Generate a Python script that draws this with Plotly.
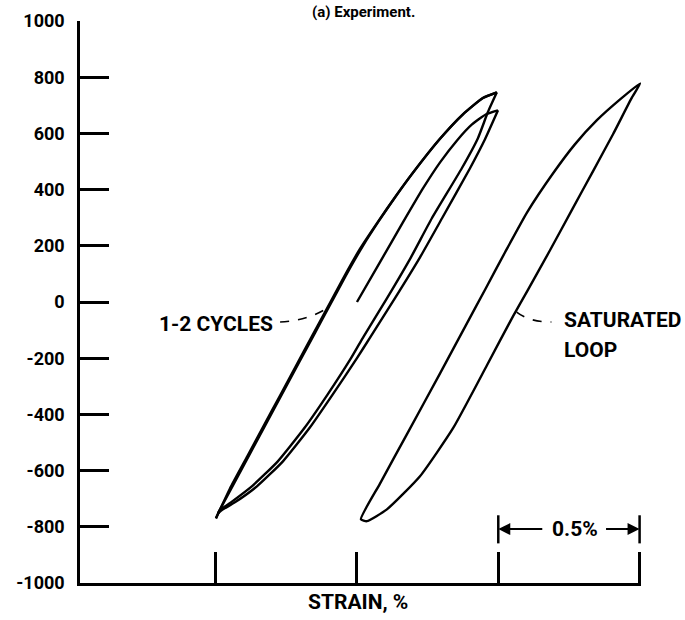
import plotly.graph_objects as go

# ---- data (strain in %, stress in MPa) ----
# 1-2 cycles: first loading from zero, then two reversals
first_load_strain = [0.0, 0.081, 0.163, 0.234, 0.294, 0.354, 0.407, 0.457, 0.499]
first_load_stress = [0, 141, 284, 405, 497, 575, 632, 668, 682]

unload1_strain = [0.499, 0.453, 0.400, 0.301, 0.223, 0.134, 0.049, 0.000, -0.085, -0.166, -0.262, -0.354, -0.432, -0.474, -0.492]
unload1_stress = [682, 579, 476, 298, 159, 13, -122, -200, -328, -446, -567, -656, -713, -738, -752]

reload1_strain = [-0.492, -0.434, -0.377, -0.320, -0.262, -0.205, -0.148, -0.102, -0.040, 0.020, 0.080, 0.140, 0.198, 0.294, 0.375, 0.446, 0.495]
reload1_stress = [-752, -644, -537, -430, -322, -215, -109, -23, 93, 198, 292, 380, 460, 581, 668, 726, 746]

unload2_strain = [0.495, 0.463, 0.428, 0.371, 0.265, 0.191, 0.106, 0.024, -0.021, -0.103, -0.184, -0.280, -0.372, -0.446, -0.485, -0.499]
unload2_stress = [746, 675, 583, 476, 298, 159, 13, -122, -200, -328, -446, -567, -656, -713, -741, -770]

reload2_strain = [-0.499, -0.445, -0.388, -0.331, -0.273, -0.216, -0.159, -0.113, -0.051, 0.010, 0.074, 0.136, 0.195, 0.292, 0.374, 0.445, 0.495]
reload2_stress = [-770, -655, -549, -442, -335, -228, -121, -36, 80, 188, 285, 375, 456, 579, 667, 726, 746]

# saturated loop (drawn shifted to the right of the 1-2 cycle loops)
sat_strain = [0.014, 0.081, 0.177, 0.294, 0.389, 0.456, 0.524, 0.602, 0.694, 0.771, 0.849, 0.931, 1.002,
              0.973, 0.906, 0.835, 0.764, 0.683, 0.602, 0.552, 0.460, 0.340, 0.223, 0.106, 0.035, 0.014]
sat_stress = [-773, -647, -470, -254, -76, 49, 177, 319, 458, 561, 647, 721, 778,
              728, 597, 465, 334, 184, 38, -51, -225, -449, -620, -738, -780, -773]

stress_ticks = [-1000, -800, -600, -400, -200, 0, 200, 400, 600, 800, 1000]
strain_ticks = [-0.5, 0.0, 0.5, 1.0]

FONT = "Roboto, Liberation Sans, DejaVu Sans, sans-serif"

fig = go.Figure()

curves = [
    (first_load_strain, first_load_stress),
    (unload1_strain, unload1_stress),
    (reload1_strain, reload1_stress),
    (unload2_strain, unload2_stress),
    (reload2_strain, reload2_stress),
    (sat_strain, sat_stress),
]
for xs, ys in curves:
    fig.add_trace(go.Scatter(x=xs, y=ys, mode="lines",
                             line=dict(color="black", width=2.4, shape="spline", smoothing=0.5),
                             hoverinfo="skip"))

fig.update_layout(
    width=685, height=620,
    margin=dict(l=80, r=44, t=21, b=37),
    paper_bgcolor="white", plot_bgcolor="white",
    showlegend=False,
    font=dict(family=FONT, color="black", size=19),
)

fig.update_xaxes(range=[-0.98, 1.005], showline=True, linecolor="black", linewidth=2.5,
                 ticks="inside", ticklen=31, tickwidth=2.5, tickcolor="black",
                 tickvals=strain_ticks, showticklabels=False,
                 showgrid=False, zeroline=False, automargin=False)
fig.update_yaxes(range=[-1000, 1000], showline=True, linecolor="black", linewidth=2.5,
                 ticks="inside", ticklen=29, tickwidth=2.5, tickcolor="black",
                 tickvals=stress_ticks, ticktext=[str(v) for v in stress_ticks],
                 tickfont=dict(family=FONT, size=18, color="black", weight="bold"),
                 ticklabelstandoff=9,
                 showgrid=False, zeroline=False, automargin=False)

lbl = dict(family=FONT, size=21, color="black", weight="bold")

# labels
fig.add_annotation(x=-0.290, y=-77, xref="x", yref="y", text="1-2 CYCLES",
                   showarrow=False, xanchor="right", yanchor="middle", font=lbl)
fig.add_annotation(x=0.725, y=-65, xref="x", yref="y", text="SATURATED",
                   showarrow=False, xanchor="left", yanchor="middle", font=lbl)
fig.add_annotation(x=0.725, y=-172, xref="x", yref="y", text="LOOP",
                   showarrow=False, xanchor="left", yanchor="middle", font=lbl)
fig.add_annotation(x=0.496, y=-0.034, xref="paper", yref="paper", text="STRAIN, %",
                   showarrow=False, xanchor="center", yanchor="middle", font=lbl)
fig.add_annotation(x=0.506, y=1.036, xref="paper", yref="paper", text="(a) Experiment.",
                   showarrow=False, xanchor="center", yanchor="top",
                   font=dict(family=FONT, size=15, color="black", weight="bold"))

# dashed leaders
fig.add_shape(type="path", xref="x", yref="y",
              path="M -0.272,-71 Q -0.18,-68 -0.107,-23",
              line=dict(color="black", width=1.6, dash="dash"))
fig.add_shape(type="path", xref="x", yref="y",
              path="M 0.565,-36 Q 0.611,-72 0.688,-71",
              line=dict(color="black", width=1.6, dash="dash"))

# 0.5 % scale bracket
for xb in (0.5, 1.0):
    fig.add_shape(type="line", xref="x", yref="y", x0=xb, x1=xb, y0=-759, y1=-859,
                  line=dict(color="black", width=2.5))
fig.add_annotation(x=0.5, y=-808, ax=0.661, ay=-808, xref="x", yref="y", axref="x", ayref="y",
                   text="", showarrow=True, arrowhead=2, arrowsize=1.2, arrowwidth=2, arrowcolor="black")
fig.add_annotation(x=1.0, y=-808, ax=0.876, ay=-808, xref="x", yref="y", axref="x", ayref="y",
                   text="", showarrow=True, arrowhead=2, arrowsize=1.2, arrowwidth=2, arrowcolor="black")
fig.add_annotation(x=0.770, y=-808, xref="x", yref="y", text="0.5%",
                   showarrow=False, xanchor="center", yanchor="middle", font=lbl)

# drop the default page margin so the figure sits at the window's top-left corner
fig.write_html("out.html", config={"displayModeBar": False},
               post_script="document.body.style.margin='0';")
